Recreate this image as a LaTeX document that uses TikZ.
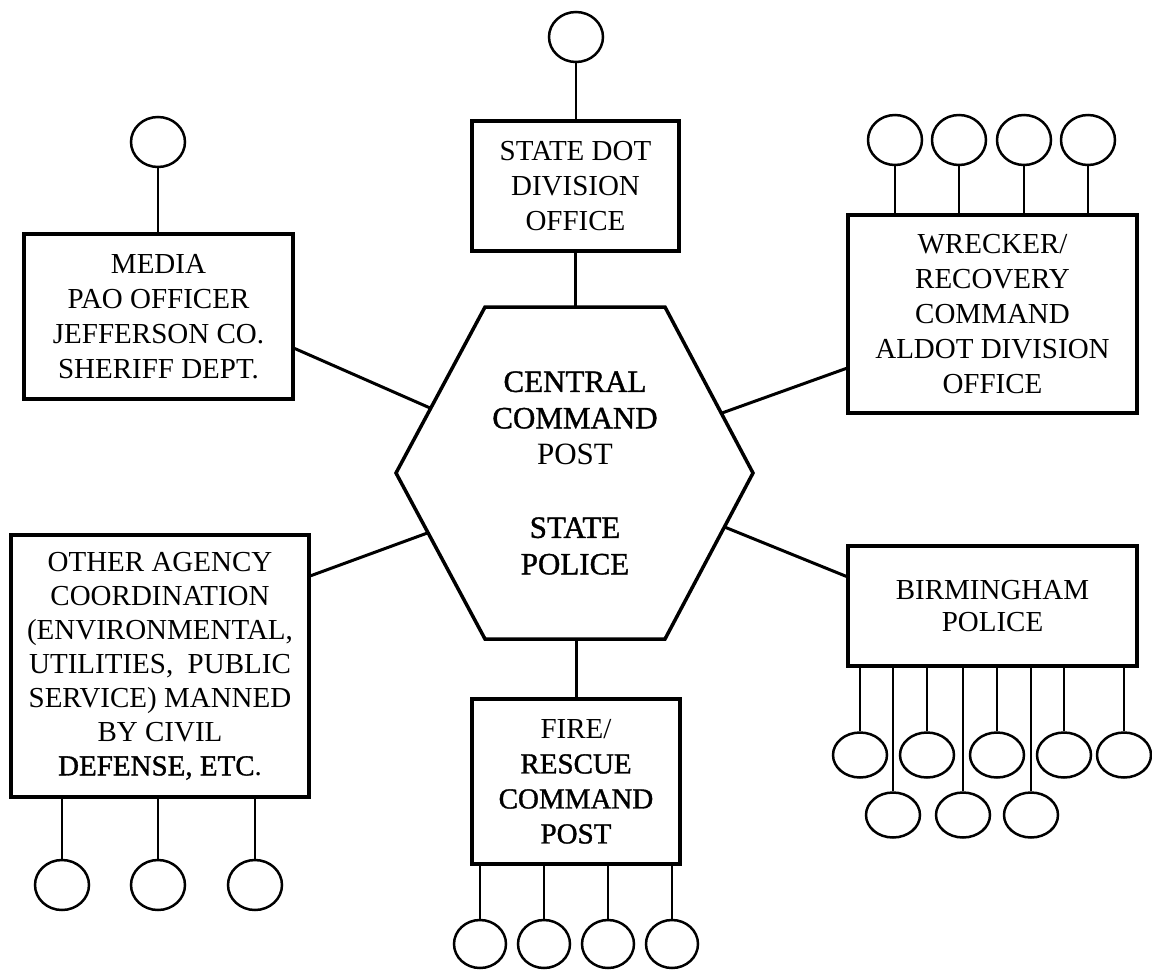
\documentclass[tikz,border=0pt]{standalone}
\usepackage{fontspec}
\setmainfont{Liberation Serif}
\newfontfamily\heavy[FakeBold=1.2]{Liberation Serif}
\usetikzlibrary{shapes.geometric,calc}

\tikzstyle{agency}=[draw,rectangle,line width=3.5pt,align=center,inner sep=0pt,font=\fontsize{29}{35}\selectfont]
\tikzstyle{unit}=[draw,ellipse,line width=2.5pt,minimum width=54pt,minimum height=50pt,inner sep=0pt]
\tikzstyle{stem}=[line width=2.5pt]
\tikzstyle{spoke}=[line width=3pt]

\begin{document}
\begin{tikzpicture}[x=1pt,y=-1pt]
    \useasboundingbox (0,0) rectangle (1152,970);
    \coordinate (h1) at (485,307);
    \coordinate (h2) at (665,307);
    \coordinate (h3) at (753,473);
    \coordinate (h4) at (665,639);
    \coordinate (h5) at (485,639);
    \coordinate (h6) at (396,473);
    \draw[line width=3.5pt,line join=miter] (h1) -- (h2) -- (h3) -- (h4) -- (h5) -- (h6) -- cycle;
    \node [align=center,font=\fontsize{31}{36.5}\selectfont] (hub) at (575,473)
      {\heavy CENTRAL\\\heavy COMMAND\\POST\\[36.5pt]\heavy STATE\\\heavy POLICE};

    \node [agency,minimum width=269pt,minimum height=165pt] (media) at (158.5,316.5)
      {MEDIA\\PAO OFFICER\\JEFFERSON CO.\\SHERIFF DEPT.};
    \node [agency,minimum width=207pt,minimum height=130pt] (dot) at (575.5,186)
      {STATE DOT\\DIVISION\\OFFICE};
    \node [agency,minimum width=289pt,minimum height=198pt] (wrecker) at (992.5,314)
      {WRECKER/\\RECOVERY\\COMMAND\\ALDOT DIVISION\\OFFICE};
    \node [agency,minimum width=298pt,minimum height=262pt,font=\fontsize{29}{34}\selectfont] (other) at (160,666)
      {OTHER AGENCY\\COORDINATION\\(ENVIRONMENTAL,\\UTILITIES,\ \ PUBLIC\\SERVICE) MANNED\\BY CIVIL\\{\heavy DEFENSE, ETC}.};
    \node [agency,minimum width=208pt,minimum height=165pt] (fire) at (576,781.5)
      {FIRE/\\\heavy RESCUE\\\heavy COMMAND\\\heavy POST};
    \node [agency,minimum width=289pt,minimum height=120pt,font=\fontsize{29}{32}\selectfont] (bham) at (992.5,606)
      {BIRMINGHAM\\POLICE};

    \draw[spoke] (dot.south) -- (dot.south |- h1);
    \draw[spoke] (fire.north) -- (fire.north |- h5);
    \draw[spoke] ($(h1)!0.61!(h6)$) -- ($(media.north east)!0.69!(media.south east)$);
    \draw[spoke] ($(h2)!0.64!(h3)$) -- ($(wrecker.north west)!0.77!(wrecker.south west)$);
    \draw[spoke] ($(h6)!0.36!(h5)$) -- ($(other.north east)!0.16!(other.south east)$);
    \draw[spoke] ($(h3)!0.325!(h4)$) -- ($(bham.north west)!0.26!(bham.south west)$);

    \node [unit] (m1) at (158,142) {};
    \node [unit] (d1) at (576,37) {};
    \node [unit] (w1) at (895,140) {};
    \node [unit] (w2) at (959,140) {};
    \node [unit] (w3) at (1024,140) {};
    \node [unit] (w4) at (1088,140) {};
    \node [unit] (o1) at (62,885) {};
    \node [unit] (o2) at (158,885) {};
    \node [unit] (o3) at (255,885) {};
    \node [unit,minimum width=52pt,minimum height=48pt] (f1) at (480,944) {};
    \node [unit,minimum width=52pt,minimum height=48pt] (f2) at (544,944) {};
    \node [unit,minimum width=52pt,minimum height=48pt] (f3) at (608,944) {};
    \node [unit,minimum width=52pt,minimum height=48pt] (f4) at (672,944) {};
    \node [unit,minimum height=45pt] (b1) at (860,755) {};
    \node [unit,minimum height=45pt] (b2) at (927,755) {};
    \node [unit,minimum height=45pt] (b3) at (997,755) {};
    \node [unit,minimum height=45pt] (b4) at (1064,755) {};
    \node [unit,minimum height=45pt] (b5) at (1124,755) {};
    \node [unit,minimum height=45pt] (b6) at (893,815) {};
    \node [unit,minimum height=45pt] (b7) at (963,815) {};
    \node [unit,minimum height=45pt] (b8) at (1031,815) {};

    \draw[stem] (m1) -- (m1 |- media.north);
    \draw[stem] (d1) -- (d1 |- dot.north);
    \draw[stem] (w1) -- (w1 |- wrecker.north);
    \draw[stem] (w2) -- (w2 |- wrecker.north);
    \draw[stem] (w3) -- (w3 |- wrecker.north);
    \draw[stem] (w4) -- (w4 |- wrecker.north);
    \draw[stem] (o1) -- (o1 |- other.south);
    \draw[stem] (o2) -- (o2 |- other.south);
    \draw[stem] (o3) -- (o3 |- other.south);
    \draw[stem] (f1) -- (f1 |- fire.south);
    \draw[stem] (f2) -- (f2 |- fire.south);
    \draw[stem] (f3) -- (f3 |- fire.south);
    \draw[stem] (f4) -- (f4 |- fire.south);
    \draw[stem] (b1) -- (b1 |- bham.south);
    \draw[stem] (b2) -- (b2 |- bham.south);
    \draw[stem] (b3) -- (b3 |- bham.south);
    \draw[stem] (b4) -- (b4 |- bham.south);
    \draw[stem] (b5) -- (b5 |- bham.south);
    \draw[stem] (b6) -- (b6 |- bham.south);
    \draw[stem] (b7) -- (b7 |- bham.south);
    \draw[stem] (b8) -- (b8 |- bham.south);
\end{tikzpicture}
\end{document}
